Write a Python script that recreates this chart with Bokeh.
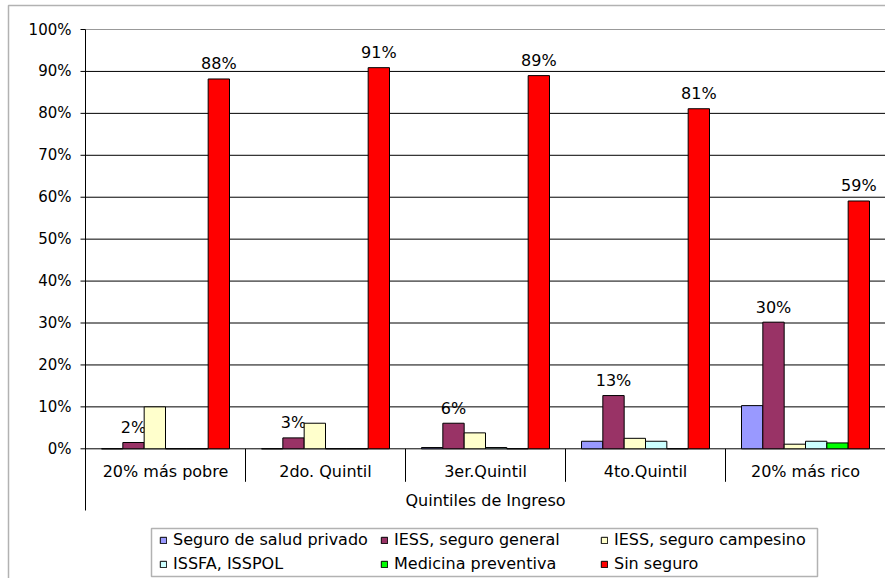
from bokeh.plotting import figure
from bokeh.models import Range1d, Legend, LegendItem, BoxAnnotation
from bokeh.core.properties import value
from bokeh.embed import file_html
from bokeh.resources import INLINE

# ---- data -------------------------------------------------------------
quintiles = ["20% más pobre", "2do. Quintil", "3er.Quintil", "4to.Quintil", "20% más rico"]
axis_title = "Quintiles de Ingreso"

series_names = ["Seguro de salud privado", "IESS, seguro general", "IESS, seguro campesino",
                "ISSFA, ISSPOL", "Medicina preventiva", "Sin seguro"]
seguro_privado = [0.0, 0.0, 0.3, 1.8, 10.3]
iess_general = [1.5, 2.6, 6.1, 12.7, 30.2]
iess_campesino = [10.0, 6.1, 3.8, 2.5, 1.1]
issfa_isspol = [0.0, 0.0, 0.3, 1.8, 1.8]
medicina_preventiva = [0.0, 0.0, 0.0, 0.0, 1.4]
sin_seguro = [88.2, 90.9, 89.0, 81.1, 59.1]

y_ticks = [0, 10, 20, 30, 40, 50, 60, 70, 80, 90, 100]

# ---- styling / layout -------------------------------------------------
colors = ["#9999FF", "#993366", "#FFFFCC", "#CCFFFF", "#00FF00", "#FF0000"]
FONT = value("DejaVu Sans")
FONT_NAME = "DejaVu Sans"
labelled_series = (1, 5)       # series whose values are printed above the bars

W, H = 885, 578
PLOT_LEFT_PX = 85              # where the value axis sits
ZERO_PX = 448.3                # vertical pixel of the 0% line
PX_PER_PCT = 4.193             # vertical pixels per percentage point
PX_PER_GROUP = (W - PLOT_LEFT_PX) / len(quintiles)


def ux(px):
    """horizontal pixel offset -> x data units"""
    return px / PX_PER_GROUP


def uy(px):
    """vertical pixel offset -> y data units"""
    return px / PX_PER_PCT


x_start = -ux(PLOT_LEFT_PX)
y_top = 100 + uy(ZERO_PX - 100 * PX_PER_PCT)
y_bottom = -uy(H - ZERO_PX)

p = figure(width=W, height=H, output_backend="svg", toolbar_location=None,
           x_range=Range1d(x_start, len(quintiles)), y_range=Range1d(y_bottom, y_top),
           x_axis_location=None, y_axis_location=None,
           min_border=0, background_fill_color="white", border_fill_color="white")
p.outline_line_color = None
p.grid.visible = False

n_groups = len(quintiles)

# horizontal gridlines (100% line lighter)
grid_y = y_ticks[:-1]
p.segment(x0=[0] * len(grid_y), y0=grid_y, x1=[n_groups] * len(grid_y), y1=grid_y,
          line_color="black", line_width=1)
p.segment(x0=[0], y0=[y_ticks[-1]], x1=[n_groups], y1=[y_ticks[-1]],
          line_color="#999999", line_width=1)

# value axis: line, outward ticks, percentage labels
axis_low = -uy(510 - ZERO_PX)
p.segment(x0=[0], y0=[axis_low], x1=[0], y1=[y_ticks[-1]], line_color="black", line_width=1)
p.segment(x0=[-ux(5)] * len(y_ticks), y0=y_ticks, x1=[0] * len(y_ticks), y1=y_ticks,
          line_color="black", line_width=1)
p.text(x=[0] * len(y_ticks), y=y_ticks, text=[f"{t}%" for t in y_ticks],
       text_align="right", text_baseline="middle", x_offset=-14,
       text_font=FONT, text_font_size="15px", text_color="black")

# bars
n_series = 6
group_fill = 0.8
bar_w = group_fill / n_series
all_series = [seguro_privado, iess_general, iess_campesino, issfa_isspol,
              medicina_preventiva, sin_seguro]
renderers = []
for j, vals in enumerate(all_series):
    xs = [i + (1 - group_fill) / 2 + (j + 0.5) * bar_w for i in range(n_groups)]
    r = p.vbar(x=xs, top=vals, bottom=0, width=bar_w, fill_color=colors[j],
               line_color="black", line_width=1)
    renderers.append(r)
    if j in labelled_series:
        p.text(x=xs, y=vals, text=[f"{round(v)}%" for v in vals],
               text_align="center", text_baseline="middle", y_offset=-15,
               text_font=FONT, text_font_size="16px", text_color="black")

# category axis below the zero line
centers = [i + 0.5 for i in range(n_groups)]
p.text(x=centers, y=[0] * n_groups, text=quintiles, text_align="center",
       text_baseline="middle", y_offset=23, text_font=FONT, text_font_size="16px",
       text_color="black")
p.text(x=[n_groups / 2], y=[0], text=[axis_title], text_align="center",
       text_baseline="middle", y_offset=52, text_font=FONT, text_font_size="16px",
       text_color="black")
sep_x = list(range(1, n_groups))
sep_low = -uy(33)
p.segment(x0=sep_x, y0=[0] * len(sep_x), x1=sep_x, y1=[sep_low] * len(sep_x),
          line_color="black", line_width=1)

# outer chart border and legend box (screen units, y measured up from the bottom)
p.add_layout(BoxAnnotation(left=8, right=W + 20, top=H - 5, bottom=-20,
                           left_units="screen", right_units="screen",
                           top_units="screen", bottom_units="screen",
                           fill_alpha=0, line_color="black", line_width=1.5,
                           level="underlay"))
p.add_layout(BoxAnnotation(left=151, right=817, top=H - 528, bottom=H - 576,
                           left_units="screen", right_units="screen",
                           top_units="screen", bottom_units="screen",
                           fill_alpha=0, line_color="black", line_width=1.5,
                           level="underlay"))

# legend: three columns of two entries
col_x = [159, 380, 600]
for c in range(3):
    items = [LegendItem(label=series_names[c], renderers=[renderers[c]]),
             LegendItem(label=series_names[c + 3], renderers=[renderers[c + 3]])]
    leg = Legend(items=items, location=(col_x[c], 5), orientation="vertical",
                 border_line_color=None, background_fill_alpha=0, padding=0, margin=0,
                 spacing=5, glyph_width=8, glyph_height=8, label_standoff=6,
                 label_height=18, label_text_font=FONT_NAME,
                 label_text_font_size="16px", label_text_color="black")
    p.add_layout(leg)

open("out.html", "w").write(file_html(p, INLINE))
